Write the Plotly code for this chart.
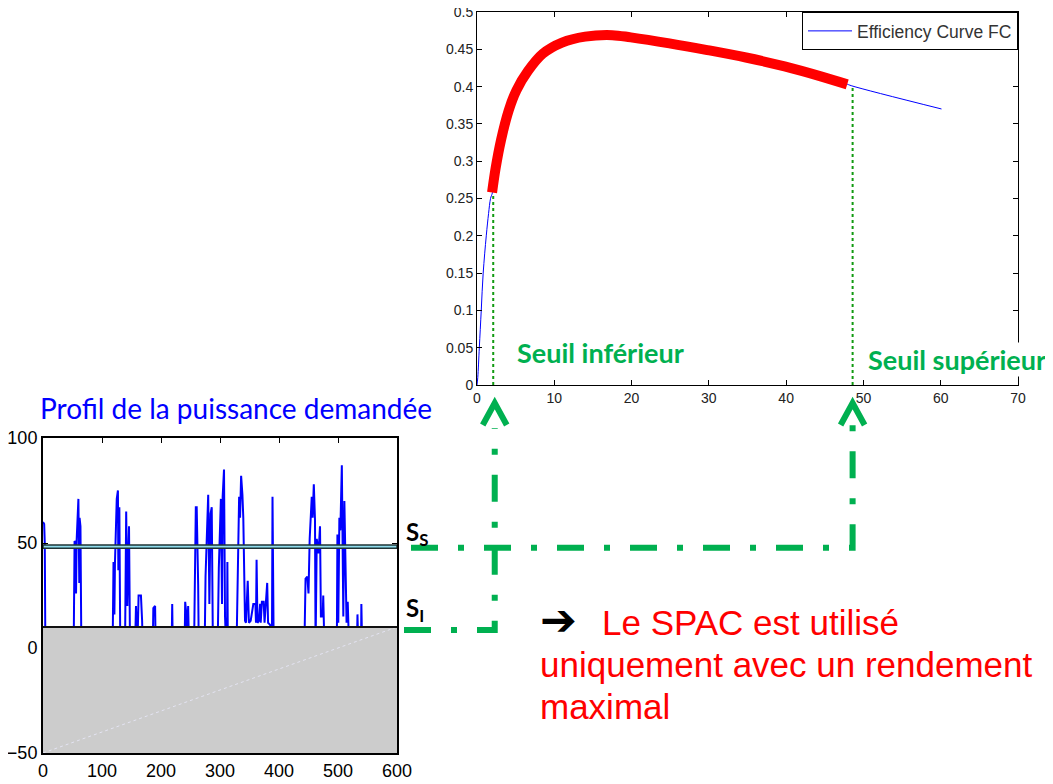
import plotly.graph_objects as go

W, H = 1053, 784
OFF = 8                      # page body margin of the html page
FW, FH = W - OFF, H - OFF    # figure size so that it fits the window exactly

# ---------------- data: efficiency curve (top chart) ----------------
eff_x = [0, 0.1, 0.3, 0.55, 0.8, 1.2, 1.5, 1.75, 2.0, 3.1, 4.1, 5.1, 6.6, 8.5, 11.0,
         14.0, 17.5, 19.9, 24.9, 29.8, 34.8, 39.8, 44.7, 47.7, 48.5, 60.1]
eff_y = [0, 0.01, 0.05, 0.1, 0.15, 0.2, 0.23, 0.25, 0.258, 0.328, 0.368, 0.395, 0.421,
         0.444, 0.459, 0.467, 0.469, 0.466, 0.458, 0.449, 0.439, 0.427, 0.413, 0.404,
         0.401, 0.370]
opt_x = [1.95, 2.4, 3.1, 4.1, 5.1, 6.6, 8.5, 11.0, 14.0, 17.5, 19.9, 24.9, 29.8, 34.8,
         39.8, 44.7, 47.9]
opt_y = [0.258, 0.29, 0.328, 0.368, 0.395, 0.421, 0.444, 0.459, 0.467, 0.469, 0.466,
         0.458, 0.449, 0.439, 0.427, 0.413, 0.403]
seuil_inf_x, seuil_inf_y = 2.1, 0.256
seuil_sup_x, seuil_sup_y = 48.6, 0.401

# ---------------- data: power demand profile (bottom chart) ----------------
prof_t = [0, 2, 3, 4,
          52, 53.5, 55, 56, 57, 60, 61.5, 62, 63.5, 65,
          118, 119.5, 121, 122, 125, 127, 127.7, 129.4, 131,
          139, 141, 143, 144.5, 145.8, 147.5,
          156, 157.6, 159, 160, 162, 166, 168, 169,
          186, 187, 190, 191,
          218, 219, 220,
          240, 241, 243, 244, 246, 247.5,
          256, 259, 260.5, 263, 264,
          274, 275.5, 280, 282, 284, 286, 288,
          296, 298, 301.5, 303.4, 304.5, 306.8, 308.5, 310.5,
          311.8, 312.5, 313.3,
          328, 329, 332.4, 334, 335.8, 338, 339.5, 342.4, 344, 347, 349, 352, 356.5, 360,
          361, 362, 363.5, 366, 368, 369, 371, 374, 375.5, 380, 381.5, 385, 387,
          388, 389, 391,
          443, 445, 448, 450, 452, 455.5, 457, 459, 461, 462, 464, 467, 469.5, 471, 474,
          475, 477,
          498, 499, 500.5, 502.3, 504, 506.5, 508, 509, 510.8, 513, 514.5, 516.5, 518.8,
          532, 533, 534.5, 539, 539.6, 541, 600]
prof_p = [60, 59, 50, 0,
          0, 51, 50, 26, 51, 71, 31, 62, 58, 0,
          0, 41, 16, 41, 71, 75, 37, 67, 0,
          0, 65, 20, 44, 58, 0,
          0, 20, 12, 0, 25, 25, 13, 0,
          0, 19, 20, 0,
          0, 21, 0,
          0, 22, 16, 0, 20, 0,
          0, 67, 67, 30, 0,
          0, 34, 73, 21, 64, 67, 0,
          0, 38, 71, 21, 72, 85, 15, 0,
          0, 41, 0,
          0, 13, 72, 62, 82, 73, 62, 13, 12, 32, 12, 13, 21, 21,
          12, 42, 12, 13, 21, 12, 22, 22, 12, 31, 12, 11, 0,
          0, 72, 0,
          0, 33, 34, 26, 52, 72, 62, 78, 61, 0, 52, 45, 58, 15, 15,
          25, 0,
          0, 54, 12, 62, 56, 87, 58, 15, 70, 42, 12, 22, 0,
          0, 16, 0, 0, 21, 0, 0]
SI = 10
SS_low, SS_high = 47.5, 49.0
t_max = 600
y_min = -50

# ---------------- layout geometry (window pixels) ----------------
top_px = dict(x0=477, x1=1018, y0=12, y1=385)
bot_px = dict(x0=43, x1=397, y0=438, y1=753)
top_xr, top_yr = [0, 70], [0, 0.5]
bot_xr, bot_yr = [0, 600], [-50, 100]


def px(p):
    return (p - OFF) / FW


def py(p):
    return 1 - (p - OFF) / FH


def dom_x(d):
    return [px(d["x0"]), px(d["x1"])]


def dom_y(d):
    return [py(d["y1"]), py(d["y0"])]


def top_x_paper(v):
    dx = dom_x(top_px)
    return dx[0] + (v - top_xr[0]) / (top_xr[1] - top_xr[0]) * (dx[1] - dx[0])


def bot_y_paper(v):
    dy = dom_y(bot_px)
    return dy[0] + (v - bot_yr[0]) / (bot_yr[1] - bot_yr[0]) * (dy[1] - dy[0])


fig = go.Figure()

# top chart traces
fig.add_trace(go.Scatter(x=eff_x, y=eff_y, mode="lines", name="Efficiency Curve FC",
                         line=dict(color="#0000FF", width=1, shape="spline"),
                         xaxis="x", yaxis="y", showlegend=True))
fig.add_trace(go.Scatter(x=opt_x, y=opt_y, mode="lines",
                         line=dict(color="#FF0000", width=10, shape="spline"),
                         xaxis="x", yaxis="y", showlegend=False))
fig.add_trace(go.Scatter(x=[seuil_inf_x, seuil_inf_x], y=[0, seuil_inf_y], mode="lines",
                         line=dict(color="#119A11", width=2, dash="dot"),
                         xaxis="x", yaxis="y", showlegend=False))
fig.add_trace(go.Scatter(x=[seuil_sup_x, seuil_sup_x], y=[0, seuil_sup_y], mode="lines",
                         line=dict(color="#119A11", width=2, dash="dot"),
                         xaxis="x", yaxis="y", showlegend=False))

# bottom chart trace
fig.add_trace(go.Scatter(x=prof_t, y=prof_p, mode="lines",
                         line=dict(color="#0000FF", width=2),
                         xaxis="x2", yaxis="y2", showlegend=False))

tick_common = dict(showgrid=False, zeroline=False, showline=True, mirror="ticks",
                   ticks="inside", ticklen=5, tickcolor="black", linecolor="black",
                   automargin=False, ticklabeloverflow="allow")

fig.update_layout(
    width=FW, height=FH, autosize=False,
    margin=dict(l=0, r=0, t=0, b=0, pad=0, autoexpand=False),
    paper_bgcolor="white", plot_bgcolor="white",
    font=dict(family="Liberation Sans, Arial, sans-serif", color="black"),
    xaxis=dict(domain=dom_x(top_px), range=top_xr, dtick=10, anchor="y",
               linewidth=1, tickfont=dict(size=14, color="#222"), **tick_common),
    yaxis=dict(domain=dom_y(top_px), range=top_yr, dtick=0.05, anchor="x",
               linewidth=1, tickfont=dict(size=14, color="#222"), **tick_common),
    xaxis2=dict(domain=dom_x(bot_px), range=bot_xr, dtick=100, anchor="y2",
                linewidth=2, tickfont=dict(size=18, color="black"), **tick_common),
    yaxis2=dict(domain=dom_y(bot_px), range=bot_yr, dtick=50, anchor="x2",
                linewidth=2, tickfont=dict(size=18, color="black"), **tick_common),
    legend=dict(x=px(1018), y=py(12), xanchor="right", yanchor="top",
                bgcolor="white", bordercolor="black", borderwidth=1,
                font=dict(size=17.5, color="#333"), itemwidth=44,
                tracegroupgap=0),
)

shapes = []
# grey area below SI threshold
shapes.append(dict(type="rect", xref="x2", yref="y2", x0=0, x1=t_max, y0=y_min, y1=SI,
                   fillcolor="#CCCCCC", line=dict(width=0), layer="above"))
shapes.append(dict(type="line", xref="x2", yref="y2", x0=0, x1=t_max, y0=y_min, y1=SI,
                   line=dict(color="#E4E4F2", width=1, dash="dot"), layer="above"))
shapes.append(dict(type="line", xref="x2", yref="y2", x0=0, x1=t_max, y0=SI, y1=SI,
                   line=dict(color="#111", width=2), layer="above"))
# SS band
shapes.append(dict(type="rect", xref="x2", yref="y2", x0=0, x1=t_max, y0=SS_low, y1=SS_high,
                   fillcolor="#8FDCEC", line=dict(color="#1F3436", width=1.5), layer="above"))

# green dash-dot connectors
G = "#00B050"
dash = "27px,20px,6px,20px"
xa = top_x_paper(seuil_inf_x) + 1.5 / FW
xb = top_x_paper(seuil_sup_x)
y_ss = bot_y_paper((SS_low + SS_high) / 2) - 1 / FH
y_si = bot_y_paper(SI) - 3 / FH
shapes.append(dict(type="path", xref="paper", yref="paper",
                   path=f"M {px(404)},{y_si} L {xa},{y_si} L {xa},{py(428)}",
                   line=dict(color=G, width=6, dash=dash)))
shapes.append(dict(type="path", xref="paper", yref="paper",
                   path=f"M {px(411)},{y_ss} L {xb},{y_ss} L {xb},{py(423)}",
                   line=dict(color=G, width=6, dash=dash)))
for xc in (xa, xb):
    shapes.append(dict(type="path", xref="paper", yref="paper",
                       path=f"M {xc - 12 / FW},{py(425)} L {xc},{py(403)} L {xc + 12 / FW},{py(425)}",
                       line=dict(color=G, width=6)))
fig.update_layout(shapes=shapes)

CAL = "Lato, Carlito, Calibri, sans-serif"
ARI = "Liberation Sans, Arial"


def ann(text, x, y, size, color, family, xanchor="center", **kw):
    return dict(text=text, x=px(x), y=py(y), xref="paper", yref="paper",
                xanchor=xanchor, yanchor="middle", showarrow=False,
                font=dict(family=family, size=size, color=color), **kw)


annotations = [
    ann("<b>Seuil inférieur</b>", 600, 352, 27, G, CAL),
    ann("<b>Seuil supérieur</b>", 957, 360, 27, G, CAL, bgcolor="white", borderpad=0),
    ann("Profil de la puissance demandée", 236, 408, 28, "#0000FF", CAL),
    ann("<b>S<sub>S</sub></b>", 404, 533, 24, "black", CAL, xanchor="left"),
    ann("<b>S<sub>I</sub></b>", 404, 609, 24, "black", CAL, xanchor="left"),
    ann("<b>➔</b>", 538, 619, 44, "black", "DejaVu Sans", xanchor="left"),
    ann("Le SPAC est utilisé", 600, 622, 35, "#FF0000", ARI, xanchor="left"),
    ann("uniquement avec un rendement", 538, 664, 35, "#FF0000", ARI, xanchor="left"),
    ann("maximal", 538, 706, 35, "#FF0000", ARI, xanchor="left"),
]
fig.update_layout(annotations=annotations)

fig.write_html("out.html")
